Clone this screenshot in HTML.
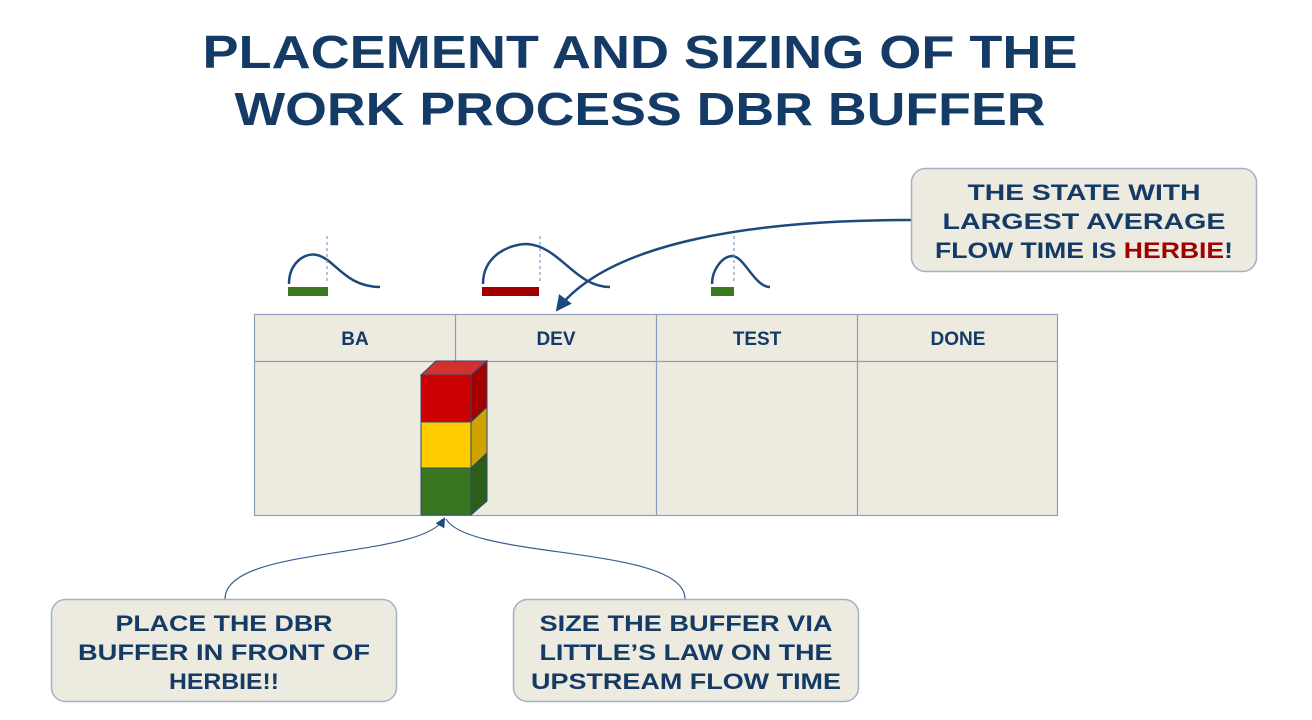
<!DOCTYPE html>
<html><head><meta charset="utf-8"><style>
html,body{margin:0;padding:0;background:#fff;}
svg{display:block;}
text{font-family:"Liberation Sans",sans-serif;font-weight:bold;fill:#143a66;}
</style></head><body>
<svg width="1312" height="720" viewBox="0 0 1312 720" xmlns="http://www.w3.org/2000/svg">
<defs>
<marker id="ah" markerWidth="10" markerHeight="10" refX="8" refY="5" orient="auto" markerUnits="userSpaceOnUse">
<path d="M0,0 L10,5 L0,10 z" fill="#1d4a7d"/></marker>
<marker id="ah2" markerWidth="16" markerHeight="16" refX="14" refY="8" orient="auto" markerUnits="userSpaceOnUse">
<path d="M0,0 L16,8 L0,16 z" fill="#1d4a7d"/></marker>
</defs>
<text x="640" y="68" text-anchor="middle" font-size="46" textLength="875" lengthAdjust="spacingAndGlyphs">PLACEMENT AND SIZING OF THE</text>
<text x="640" y="125" text-anchor="middle" font-size="46" textLength="811" lengthAdjust="spacingAndGlyphs">WORK PROCESS DBR BUFFER</text>

<!-- distributions -->
<g fill="none" stroke="#1d4a7d" stroke-width="2.5">
<path d="M289,284 C289,262 306,252 317,255 C335,259 345,287 380,287"/>
<path d="M483,284 C483,255 510,244 527,244 C560,246 575,287 610,287"/>
<path d="M712,284 C712,270 722,256 733,256 C745,258 755,287 770,287"/>
</g>
<g stroke="#7f9cc0" stroke-width="1.2" stroke-dasharray="3,3">
<line x1="327" y1="236" x2="327" y2="284"/>
<line x1="540" y1="236" x2="540" y2="284"/>
<line x1="734" y1="236" x2="734" y2="284"/>
</g>
<rect x="288" y="287" width="40" height="9" fill="#3b7a1f"/>
<rect x="482" y="287" width="57" height="9" fill="#a00000"/>
<rect x="711" y="287" width="23" height="9" fill="#3b7a1f"/>

<!-- table -->
<rect x="254.5" y="314.5" width="803" height="201" fill="#edeae0" stroke="#8da0bb" stroke-width="1.2"/>
<line x1="254" y1="361.5" x2="1057" y2="361.5" stroke="#8da0bb" stroke-width="1.2"/>
<g stroke="#8da0bb" stroke-width="1.2">
<line x1="455.5" y1="314" x2="455.5" y2="515"/>
<line x1="656.5" y1="314" x2="656.5" y2="515"/>
<line x1="857.5" y1="314" x2="857.5" y2="515"/>
</g>
<text x="355" y="345" text-anchor="middle" font-size="19">BA</text>
<text x="556" y="345" text-anchor="middle" font-size="19">DEV</text>
<text x="757" y="345" text-anchor="middle" font-size="19">TEST</text>
<text x="958" y="345" text-anchor="middle" font-size="19">DONE</text>

<!-- cube stack -->
<g stroke="#2a4a70" stroke-width="1">
<polygon points="421,375 436,361 487,361 471,375" fill="#d53030"/>
<rect x="421" y="375" width="50" height="47" fill="#cc0000"/>
<polygon points="471,375 487,361 487,407 471,422" fill="#a50000"/>
<rect x="421" y="422" width="50" height="46" fill="#ffcc00"/>
<polygon points="471,422 487,407 487,453 471,468" fill="#cfa300"/>
<rect x="421" y="468" width="50" height="47" fill="#3a7520"/>
<polygon points="471,468 487,453 487,501 471,515" fill="#2d5e18"/>
</g>

<!-- connectors -->
<path d="M911,220 C760,220 610,240 557,310" fill="none" stroke="#1d4a7d" stroke-width="2.5" marker-end="url(#ah2)"/>
<path d="M225,599 C225,545 420,560 444,519" fill="none" stroke="#3a5f8f" stroke-width="1.2" marker-end="url(#ah)"/>
<path d="M685,599 C685,545 470,560 446,519" fill="none" stroke="#3a5f8f" stroke-width="1.2"/>

<!-- callouts -->
<rect x="911.5" y="168.5" width="345" height="103" rx="14" fill="#edeae0" stroke="#a3b0c4" stroke-width="1.5"/>
<text x="1084" y="200" text-anchor="middle" font-size="22" textLength="233" lengthAdjust="spacingAndGlyphs">THE STATE WITH</text>
<text x="1084" y="229" text-anchor="middle" font-size="22" textLength="283" lengthAdjust="spacingAndGlyphs">LARGEST AVERAGE</text>
<text x="1084" y="258" text-anchor="middle" font-size="22" textLength="298" lengthAdjust="spacingAndGlyphs">FLOW TIME IS <tspan fill="#a00000">HERBIE</tspan>!</text>

<rect x="51.5" y="599.5" width="345" height="102" rx="14" fill="#edeae0" stroke="#a3b0c4" stroke-width="1.5"/>
<text x="224" y="631" text-anchor="middle" font-size="22" textLength="217" lengthAdjust="spacingAndGlyphs">PLACE THE DBR</text>
<text x="224" y="660" text-anchor="middle" font-size="22" textLength="292" lengthAdjust="spacingAndGlyphs">BUFFER IN FRONT OF</text>
<text x="224" y="689" text-anchor="middle" font-size="22" textLength="110" lengthAdjust="spacingAndGlyphs">HERBIE!!</text>

<rect x="513.5" y="599.5" width="345" height="102" rx="14" fill="#edeae0" stroke="#a3b0c4" stroke-width="1.5"/>
<text x="686" y="631" text-anchor="middle" font-size="22" textLength="293" lengthAdjust="spacingAndGlyphs">SIZE THE BUFFER VIA</text>
<text x="686" y="660" text-anchor="middle" font-size="22" textLength="293" lengthAdjust="spacingAndGlyphs">LITTLE’S LAW ON THE</text>
<text x="686" y="689" text-anchor="middle" font-size="22" textLength="310" lengthAdjust="spacingAndGlyphs">UPSTREAM FLOW TIME</text>
</svg>
</body></html>
